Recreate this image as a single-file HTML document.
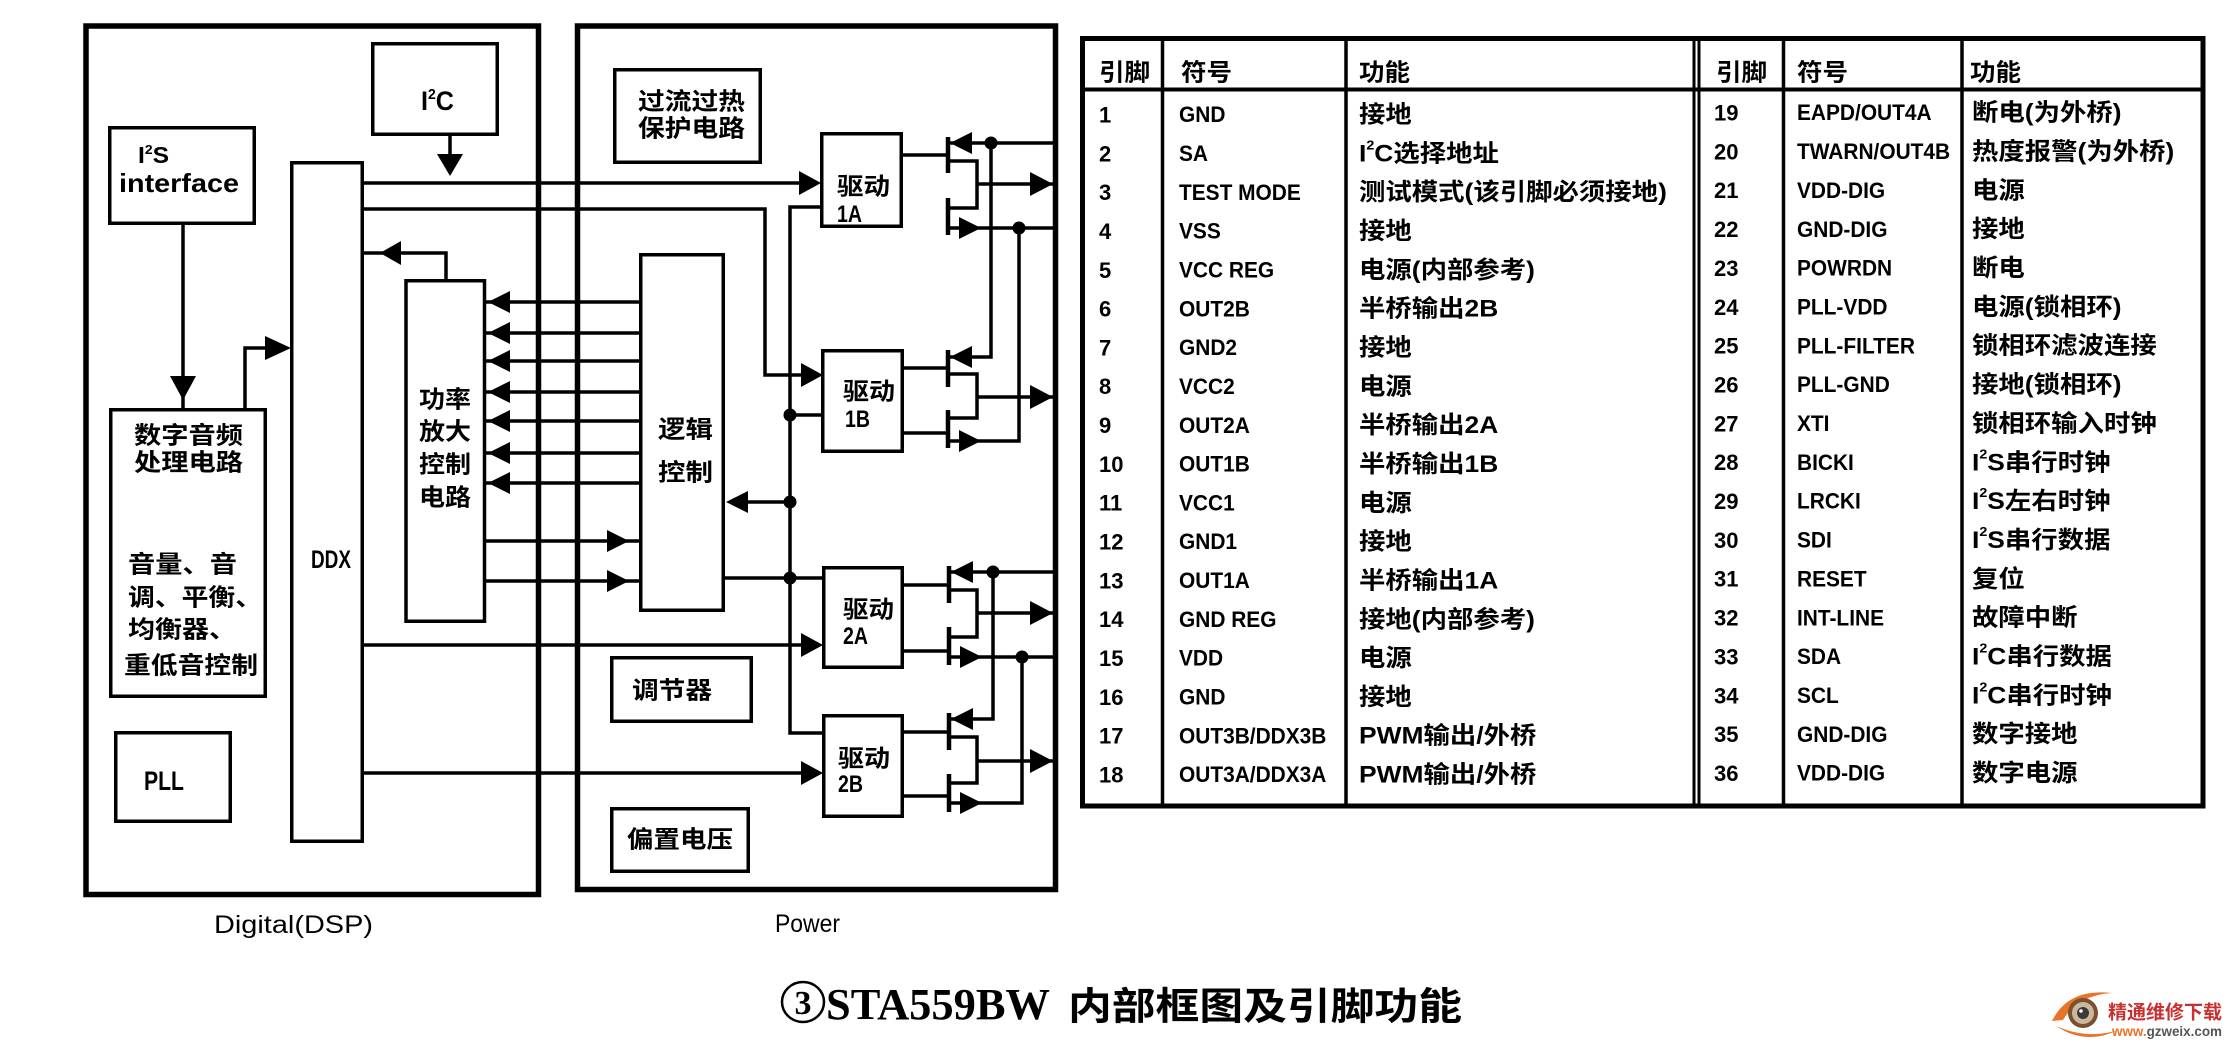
<!DOCTYPE html>
<html><head><meta charset="utf-8"><style>
html,body{margin:0;padding:0;background:#fff;}
svg{display:block;}
</style></head><body>
<svg width="2231" height="1048" viewBox="0 0 2231 1048" xmlns="http://www.w3.org/2000/svg">
<rect width="2231" height="1048" fill="#fff"/>

<!-- outer boxes -->
<g fill="none" stroke="#000" stroke-width="5.5">
<rect x="86" y="26" width="452.5" height="868.5"/>
<rect x="577.5" y="26" width="478" height="863.5"/>
</g>

<!-- inner boxes -->
<g fill="none" stroke="#000" stroke-width="3.5">
<rect x="372.75" y="43.75" width="124.5" height="90.5"/>
<rect x="109.75" y="127.75" width="144.5" height="95.5"/>
<rect x="110.75" y="409.75" width="154.5" height="286.5"/>
<rect x="115.75" y="732.75" width="114.5" height="88.5"/>
<rect x="291.75" y="162.75" width="70.5" height="678.5"/>
<rect x="406" y="280.75" width="78.5" height="340.5"/>
<rect x="614.75" y="69.75" width="145.5" height="92.5"/>
<rect x="640.75" y="254.75" width="82.5" height="355.5"/>
<rect x="821.75" y="133.75" width="79.5" height="92.5"/>
<rect x="822.75" y="350.75" width="79.5" height="100.5"/>
<rect x="823.75" y="567.75" width="78.5" height="99.5"/>
<rect x="823.75" y="715.75" width="78.5" height="100.5"/>
<rect x="611.75" y="657.75" width="139.5" height="63.5"/>
<rect x="611.75" y="808.75" width="136.5" height="62.5"/>
</g>

<!-- wires -->
<g fill="none" stroke="#000" stroke-width="3.5">
<path d="M450 136 V160"/>
<path d="M183 225 V408"/>
<path d="M245 408 V348 H270"/>
<path d="M446 279 V253 H364"/>
<path d="M364 183 H800"/>
<path d="M364 209 H765 V375 H805"/>
<path d="M486 302 H640 M486 333 H640 M486 361 H640 M486 392 H640 M486 421 H640 M486 453 H640 M486 483 H640"/>
<path d="M486 541 H640 M486 581 H640"/>
<path d="M364 645 H805"/>
<path d="M364 773 H805"/>
<path d="M821 207 H790 V733 H823"/>
<path d="M790 415 H822"/>
<path d="M790 502 H740"/>
<path d="M724 578 H823"/>
<!-- 1A -->
<path d="M903 155 H948"/>
<path d="M948 143 H1054"/>
<path d="M948 161 H977 V208 H948"/>
<path d="M977 184 H1054"/>
<path d="M948 228 H1054"/>
<path d="M991 143 V357 H950"/>
<path d="M1019 228 V441 H948"/>
<!-- 1B -->
<path d="M904 368 H948 M904 433 H948"/>
<path d="M948 374 H977 V418 H948"/>
<path d="M977 397 H1054"/>
<!-- 2A -->
<path d="M904 585 H949 M904 651 H949"/>
<path d="M949 572 H1054"/>
<path d="M949 590 H977 V637 H949"/>
<path d="M977 613 H1054"/>
<path d="M949 657 H1054"/>
<path d="M993 572 V719 H951"/>
<path d="M1022 657 V803 H949"/>
<!-- 2B -->
<path d="M904 732 H949 M904 796 H949"/>
<path d="M949 737 H977 V783 H949"/>
<path d="M977 761 H1054"/>
</g>
<!-- transistor bars -->
<g fill="none" stroke="#000" stroke-width="4.5">
<path d="M948 137 V173 M948 198 V235"/>
<path d="M948 350 V387 M948 410 V448"/>
<path d="M949 566 V603 M949 627 V665"/>
<path d="M949 713 V750 M949 774 V812"/>
</g>

<!-- arrowheads -->
<g fill="#000">
<polygon points="450,176 437,154 463,154"/>
<polygon points="183,400 170,376 196,376"/>
<polygon points="291,348 265,336 265,360"/>
<polygon points="380,253 401,241 401,265"/>
<polygon points="821,183 799,171 799,195"/>
<polygon points="823,375 801,363 801,387"/>
<polygon points="823,645 801,633 801,657"/>
<polygon points="823,773 801,761 801,785"/>
<polygon points="488,302 510,291 510,313"/>
<polygon points="488,333 510,322 510,344"/>
<polygon points="488,361 510,350 510,372"/>
<polygon points="488,392 510,381 510,403"/>
<polygon points="488,421 510,410 510,432"/>
<polygon points="488,453 510,442 510,464"/>
<polygon points="488,483 510,472 510,494"/>
<polygon points="629,541 607,530 607,552"/>
<polygon points="629,581 607,570 607,592"/>
<polygon points="726,502 748,491 748,513"/>
<!-- mosfet arrows -->
<polygon points="950,143 972,132 972,154"/>
<polygon points="981,228 959,217 959,239"/>
<polygon points="1053,184 1030,172 1030,196"/>
<polygon points="950,357 972,346 972,368"/>
<polygon points="981,441 959,430 959,452"/>
<polygon points="1053,397 1030,385 1030,409"/>
<polygon points="951,572 973,561 973,583"/>
<polygon points="982,657 960,646 960,668"/>
<polygon points="1053,613 1030,601 1030,625"/>
<polygon points="951,719 973,708 973,730"/>
<polygon points="982,803 960,792 960,814"/>
<polygon points="1053,761 1030,749 1030,773"/>
<!-- dots -->
<circle cx="790" cy="415" r="6.5"/>
<circle cx="790" cy="502" r="6.5"/>
<circle cx="790" cy="578" r="6.5"/>
<circle cx="991" cy="143" r="6.5"/>
<circle cx="1019" cy="228" r="6.5"/>
<circle cx="993" cy="572" r="6.5"/>
<circle cx="1022" cy="657" r="6.5"/>
</g>

<!-- diagram labels -->
<g font-family="'Liberation Sans', sans-serif" font-weight="bold" fill="#000">
<text x="421" y="110" font-size="27" textLength="33" lengthAdjust="spacingAndGlyphs">I<tspan font-size="15" dy="-11">2</tspan><tspan dy="11">C</tspan></text>
<text x="138" y="163" font-size="23" textLength="31" lengthAdjust="spacingAndGlyphs">I<tspan font-size="13" dy="-9">2</tspan><tspan dy="9">S</tspan></text>
<text x="119" y="192" font-size="26" textLength="120" lengthAdjust="spacingAndGlyphs">interface</text>
<text x="311" y="568" font-size="25" textLength="40" lengthAdjust="spacingAndGlyphs">DDX</text>
<text x="144" y="790" font-size="27" textLength="40" lengthAdjust="spacingAndGlyphs">PLL</text>
<text x="837" y="222" font-size="24" textLength="25" lengthAdjust="spacingAndGlyphs">1A</text>
<text x="845" y="427" font-size="24" textLength="25" lengthAdjust="spacingAndGlyphs">1B</text>
<text x="843" y="644" font-size="24" textLength="25" lengthAdjust="spacingAndGlyphs">2A</text>
<text x="838" y="792" font-size="24" textLength="25" lengthAdjust="spacingAndGlyphs">2B</text>
</g>
<g font-family="'Liberation Sans', sans-serif" fill="#000">
<text x="214" y="933" font-size="25" textLength="159" lengthAdjust="spacingAndGlyphs">Digital(DSP)</text>
<text x="775" y="932" font-size="25" textLength="65" lengthAdjust="spacingAndGlyphs">Power</text>
</g>

<g font-family="'Noto Sans CJK SC','WenQuanYi Zen Hei',sans-serif" font-weight="bold" font-size="24" fill="#000" dominant-baseline="central">
<text x="134" y="433" textLength="109" lengthAdjust="spacingAndGlyphs">数字音频</text>
<text x="134" y="460" textLength="109" lengthAdjust="spacingAndGlyphs">处理电路</text>
<text x="128" y="562" textLength="109" lengthAdjust="spacingAndGlyphs">音量、音</text>
<text x="128" y="595" textLength="134" lengthAdjust="spacingAndGlyphs">调、平衡、</text>
<text x="128" y="627" textLength="108" lengthAdjust="spacingAndGlyphs">均衡器、</text>
<text x="124" y="663" textLength="134" lengthAdjust="spacingAndGlyphs">重低音控制</text>
<text x="419" y="397" textLength="52" lengthAdjust="spacingAndGlyphs">功率</text>
<text x="419" y="429" textLength="52" lengthAdjust="spacingAndGlyphs">放大</text>
<text x="419" y="462" textLength="52" lengthAdjust="spacingAndGlyphs">控制</text>
<text x="419" y="495" textLength="52" lengthAdjust="spacingAndGlyphs">电路</text>
<text x="638" y="99" textLength="107" lengthAdjust="spacingAndGlyphs">过流过热</text>
<text x="638" y="126" textLength="107" lengthAdjust="spacingAndGlyphs">保护电路</text>
<text x="658" y="427" textLength="55" lengthAdjust="spacingAndGlyphs">逻辑</text>
<text x="658" y="470" textLength="55" lengthAdjust="spacingAndGlyphs">控制</text>
<text x="837" y="184" textLength="53" lengthAdjust="spacingAndGlyphs">驱动</text>
<text x="843" y="389" textLength="52" lengthAdjust="spacingAndGlyphs">驱动</text>
<text x="843" y="607" textLength="51" lengthAdjust="spacingAndGlyphs">驱动</text>
<text x="838" y="756" textLength="52" lengthAdjust="spacingAndGlyphs">驱动</text>
<text x="632" y="688" textLength="80" lengthAdjust="spacingAndGlyphs">调节器</text>
<text x="627" y="837" textLength="106" lengthAdjust="spacingAndGlyphs">偏置电压</text>
</g>

<!-- table frame -->
<rect x="1082.5" y="38.5" width="1120.5" height="767.5" fill="none" stroke="#000" stroke-width="5"/>
<g stroke="#000" fill="none">
<path d="M1082 89.5 H2203" stroke-width="4"/>
<path d="M1162.5 38 V806 M1346 38 V806 M1783.5 38 V806 M1962 38 V806" stroke-width="3.5"/>
<path d="M1694 38 V806 M1699 38 V806" stroke-width="3"/>
</g>

<!-- table headers -->
<g font-family="'Liberation Sans','Noto Sans CJK SC',sans-serif" font-weight="bold" font-size="24" fill="#000" dominant-baseline="central">
<text x="1099" y="73" textLength="51" lengthAdjust="spacingAndGlyphs">引脚</text>
<text x="1181" y="73" textLength="51" lengthAdjust="spacingAndGlyphs">符号</text>
<text x="1359" y="73" textLength="51" lengthAdjust="spacingAndGlyphs">功能</text>
<text x="1716" y="73" textLength="51" lengthAdjust="spacingAndGlyphs">引脚</text>
<text x="1797" y="73" textLength="51" lengthAdjust="spacingAndGlyphs">符号</text>
<text x="1970" y="73" textLength="51" lengthAdjust="spacingAndGlyphs">功能</text>
</g>

<!-- left pins -->
<g transform="translate(1099,0)" font-family="'Liberation Sans',sans-serif" font-weight="bold" font-size="22" fill="#000" dominant-baseline="central">
<text y="115">1</text><text y="153.8">2</text><text y="192.6">3</text><text y="231.5">4</text><text y="270.3">5</text><text y="309.1">6</text><text y="347.9">7</text><text y="386.7">8</text><text y="425.6">9</text><text y="464.4">10</text><text y="503.2">11</text><text y="542">12</text><text y="580.8">13</text><text y="619.7">14</text><text y="658.5">15</text><text y="697.3">16</text><text y="736.1">17</text><text y="775">18</text>
</g>
<!-- left symbols -->
<g transform="translate(1179,0) scale(0.95,1)" font-family="'Liberation Sans',sans-serif" font-weight="bold" font-size="22" fill="#000" dominant-baseline="central">
<text y="115">GND</text><text y="153.8">SA</text><text y="192.6">TEST MODE</text><text y="231.5">VSS</text><text y="270.3">VCC REG</text><text y="309.1">OUT2B</text><text y="347.9">GND2</text><text y="386.7">VCC2</text><text y="425.6">OUT2A</text><text y="464.4">OUT1B</text><text y="503.2">VCC1</text><text y="542">GND1</text><text y="580.8">OUT1A</text><text y="619.7">GND REG</text><text y="658.5">VDD</text><text y="697.3">GND</text><text y="736.1">OUT3B/DDX3B</text><text y="775">OUT3A/DDX3A</text>
</g>
<!-- left functions -->
<g transform="translate(1359,0) scale(1.1,1)" font-family="'Liberation Sans','Noto Sans CJK SC',sans-serif" font-weight="bold" font-size="24" fill="#000" dominant-baseline="central">
<text y="115">接地</text>
<text y="153.8">I<tspan font-size="13" dy="-9">2</tspan><tspan dy="9">C选择地址</tspan></text>
<text y="192.6">测试模式(该引脚必须接地)</text>
<text y="231.5">接地</text>
<text y="270.3">电源(内部参考)</text>
<text y="309.1">半桥输出2B</text>
<text y="347.9">接地</text>
<text y="386.7">电源</text>
<text y="425.6">半桥输出2A</text>
<text y="464.4">半桥输出1B</text>
<text y="503.2">电源</text>
<text y="542">接地</text>
<text y="580.8">半桥输出1A</text>
<text y="619.7">接地(内部参考)</text>
<text y="658.5">电源</text>
<text y="697.3">接地</text>
<text y="736.1">PWM输出/外桥</text>
<text y="775">PWM输出/外桥</text>
</g>

<!-- right pins -->
<g transform="translate(1714,0)" font-family="'Liberation Sans',sans-serif" font-weight="bold" font-size="22" fill="#000" dominant-baseline="central">
<text y="113">19</text><text y="151.9">20</text><text y="190.7">21</text><text y="229.6">22</text><text y="268.4">23</text><text y="307.3">24</text><text y="346.1">25</text><text y="385">26</text><text y="423.8">27</text><text y="462.7">28</text><text y="501.5">29</text><text y="540.4">30</text><text y="579.2">31</text><text y="618.1">32</text><text y="656.9">33</text><text y="695.8">34</text><text y="734.6">35</text><text y="773.5">36</text>
</g>
<!-- right symbols -->
<g transform="translate(1797,0) scale(0.95,1)" font-family="'Liberation Sans',sans-serif" font-weight="bold" font-size="22" fill="#000" dominant-baseline="central">
<text y="113">EAPD/OUT4A</text><text y="151.9">TWARN/OUT4B</text><text y="190.7">VDD-DIG</text><text y="229.6">GND-DIG</text><text y="268.4">POWRDN</text><text y="307.3">PLL-VDD</text><text y="346.1">PLL-FILTER</text><text y="385">PLL-GND</text><text y="423.8">XTI</text><text y="462.7">BICKI</text><text y="501.5">LRCKI</text><text y="540.4">SDI</text><text y="579.2">RESET</text><text y="618.1">INT-LINE</text><text y="656.9">SDA</text><text y="695.8">SCL</text><text y="734.6">GND-DIG</text><text y="773.5">VDD-DIG</text>
</g>
<!-- right functions -->
<g transform="translate(1972,0) scale(1.1,1)" font-family="'Liberation Sans','Noto Sans CJK SC',sans-serif" font-weight="bold" font-size="24" fill="#000" dominant-baseline="central">
<text y="113">断电(为外桥)</text>
<text y="151.9">热度报警(为外桥)</text>
<text y="190.7">电源</text>
<text y="229.6">接地</text>
<text y="268.4">断电</text>
<text y="307.3">电源(锁相环)</text>
<text y="346.1">锁相环滤波连接</text>
<text y="385">接地(锁相环)</text>
<text y="423.8">锁相环输入时钟</text>
<text y="462.7">I<tspan font-size="13" dy="-9">2</tspan><tspan dy="9">S串行时钟</tspan></text>
<text y="501.5">I<tspan font-size="13" dy="-9">2</tspan><tspan dy="9">S左右时钟</tspan></text>
<text y="540.4">I<tspan font-size="13" dy="-9">2</tspan><tspan dy="9">S串行数据</tspan></text>
<text y="579.2">复位</text>
<text y="618.1">故障中断</text>
<text y="656.9">I<tspan font-size="13" dy="-9">2</tspan><tspan dy="9">C串行数据</tspan></text>
<text y="695.8">I<tspan font-size="13" dy="-9">2</tspan><tspan dy="9">C串行时钟</tspan></text>
<text y="734.6">数字接地</text>
<text y="773.5">数字电源</text>
</g>

<!-- title -->
<ellipse cx="803" cy="1002" rx="21" ry="20" fill="none" stroke="#000" stroke-width="2.5"/>
<text x="803" y="1014" text-anchor="middle" font-family="'Liberation Serif',serif" font-weight="bold" font-size="34" fill="#000">3</text>
<text x="826" y="1019" font-family="'Liberation Serif',serif" font-weight="bold" font-size="44" fill="#000" textLength="224" lengthAdjust="spacingAndGlyphs">STA559BW</text>
<text x="1068" y="1003" dominant-baseline="central" font-family="'Noto Sans CJK SC','WenQuanYi Zen Hei',sans-serif" font-weight="bold" font-size="38" fill="#000" textLength="394" lengthAdjust="spacingAndGlyphs">内部框图及引脚功能</text>

<!-- watermark -->
<path d="M2052 1021 Q2068 988 2112 993 Q2078 995 2063 1020 Z" fill="#e8742a"/>
<path d="M2056 1026 Q2086 1046 2118 1030 Q2088 1040 2056 1026 Z" fill="#e8742a"/>
<circle cx="2083" cy="1013" r="15" fill="#7a5030"/>
<circle cx="2083" cy="1013" r="11" fill="#cbb89c"/>
<circle cx="2083" cy="1013" r="6" fill="#3a3a3a"/>
<circle cx="2081" cy="1011" r="1.8" fill="#fff"/>
<text x="2108" y="1011" dominant-baseline="central" font-family="'Noto Sans CJK SC','WenQuanYi Zen Hei',sans-serif" font-weight="bold" font-size="19" fill="#c83030" textLength="114" lengthAdjust="spacingAndGlyphs">精通维修下载</text>
<text x="2112" y="1036" font-family="'Liberation Sans',sans-serif" font-weight="bold" font-size="14" textLength="110" lengthAdjust="spacingAndGlyphs"><tspan fill="#e8742a">www.</tspan><tspan fill="#555">gzweix.com</tspan></text>

</svg>
</body></html>
